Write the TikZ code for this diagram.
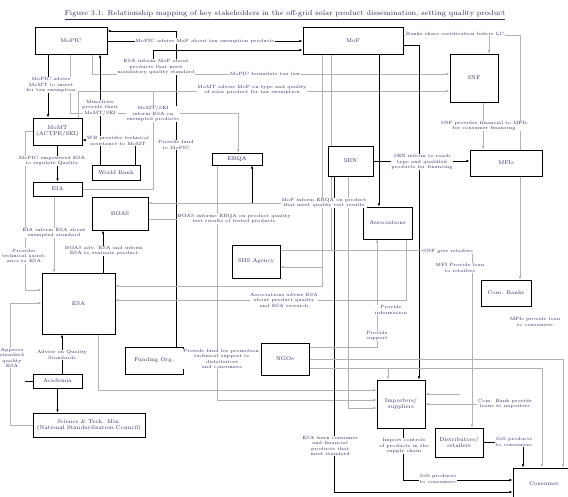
\documentclass[tikz,border=0pt]{standalone}
\usepackage{tikz}
\usetikzlibrary{positioning, arrows.meta, backgrounds}
\definecolor{labcol}{RGB}{45,45,95}
\tikzset{
        x=1pt, y=-1pt, % one unit per pixel, y grows downwards
        >={Latex[length=3.2pt,width=2.6pt]}, % small filled heads
        box/.style={draw, line width=0.9pt, fill=white, inner sep=1pt, align=center,
                text=labcol, font=\fontsize{5.5}{6.5}\selectfont}, % stakeholder boxes
        lbl/.style={fill=white, inner sep=0.6pt, align=center, text=labcol,
                font=\fontsize{4.6}{5.4}\selectfont}, % relation texts
        heavy/.style={line width=1pt, black},
        light/.style={line width=0.55pt, gray!60},
        }

\begin{document}
\begin{tikzpicture}
        \useasboundingbox (0,0) rectangle (568,496);
        \node[text=labcol, font=\fontsize{7.3}{8.5}\selectfont] (title) at (285,15)
                {\underline{Figure 3.1: Relationship mapping of key stakeholders in the off-grid solar product dissemination, setting quality product}};

        % stakeholders
        \node[box, minimum width=72, minimum height=27] (MoPIC) at (71,40.5) {MoPIC};
        \node[box, minimum width=100, minimum height=27] (MoF) at (353,40.5) {MoF};
        \node[box, minimum width=48, minimum height=48] (SNF) at (474,78) {SNF};
        \node[box, minimum width=72, minimum height=26] (MFIs) at (506,163) {MFIs};
        \node[box, minimum width=49, minimum height=27] (MoMT) at (57.5,131.5) {MoMT\\(ACTPE/SEI)};
        \node[box, minimum width=48, minimum height=15] (WB) at (116,172.5) {World Bank};
        \node[box, minimum width=49, minimum height=14] (EIA) at (57.5,189) {EIA};
        \node[box, minimum width=56, minimum height=33] (BOAS) at (120,213.5) {BOAS};
        \node[box, minimum width=50, minimum height=12] (ERQA) at (237,159) {ERQA};
        \node[box, minimum width=45, minimum height=30] (SEN) at (350.5,161) {SEN};
        \node[box, minimum width=49, minimum height=32] (Assoc) at (387.5,223) {Associations};
        \node[box, minimum width=48, minimum height=33] (SHS) at (256,261.5) {SHS Agency};
        \node[box, minimum width=73, minimum height=61] (ESA) at (78.5,303.5) {ESA};
        \node[box, minimum width=50, minimum height=26] (ComBanks) at (506,293) {Com. Banks};
        \node[box, minimum width=49, minimum height=14] (Academia) at (57.5,381) {Academia};
        \node[box, minimum width=112, minimum height=24] (SciTech) at (89,425) {Science \& Tech. Min.\\(National Standardisation Council)};
        \node[box, minimum width=58, minimum height=27] (FundOrg) at (154,360.5) {Funding Org.};
        \node[box, minimum width=48, minimum height=32] (NGOs) at (285,359) {NGOs};
        \node[box, minimum width=48, minimum height=48] (Importers) at (401,404) {Importers/\\suppliers};
        \node[box, minimum width=48, minimum height=29] (Distrib) at (459,442.5) {Distributors/\\retailers};
        \node[box, minimum width=62, minimum height=32] (Consumer) at (544,484) {Consumer};

        % relation texts
        \node[lbl] (lA) at (205,41) {MoPIC advise MoF about tax exemption products};
        \node[lbl] (lB) at (156,67) {ESA inform MoF about\\products that meet\\mandatory quality standard};
        \node[lbl] (lC) at (455,34) {Banks share certification before LC};
        \node[lbl] (lD) at (265,74) {MoPIC formulate tax law};
        \node[lbl] (lE) at (252,90) {MoMT advise MoF on type and quality\\of solar product for tax exemption};
        \node[lbl] (lF) at (51,85) {MoPIC advise\\MoMT to insert\\for tax exemption};
        \node[lbl] (lG) at (100,108) {Ministries\\provide their\\MoMT/SEI};
        \node[lbl] (lH) at (153,114) {MoMT/SEI\\inform ESA on\\exempted products};
        \node[lbl] (lI) at (118,141) {WB provides technical\\assistance to MoMT};
        \node[lbl] (lJ) at (176,145) {Provide fund\\to MoPIC};
        \node[lbl] (lK) at (52,161) {MoPIC empowered ESA\\to regulate Quality};
        \node[lbl] (lL) at (54,233) {EIA inform ESA about\\exempted standard};
        \node[lbl] (lM) at (24,256) {Provides\\technical assist-\\ance to ESA};
        \node[lbl] (lN) at (104,251) {BOAS adv. ESA and inform\\ESA to evaluate product};
        \node[lbl] (lO) at (234,219) {BOAS informs ERQA on product quality\\test results of tested products};
        \node[lbl] (lP) at (324,203) {MoF inform ERQA on product\\that meet quality test results};
        \node[lbl] (lQ) at (422,162) {SEN inform to reach\\type and qualified\\products for financing};
        \node[lbl] (lR) at (484,126) {SNF provides financial to MFIs\\for consumer financing};
        \node[lbl] (lS) at (448,251) {SNF give retailers};
        \node[lbl] (lT) at (460,268) {MFI Provide loan\\to retailers};
        \node[lbl] (lU) at (284,300) {Associations advise ESA\\about product quality\\and ESA research};
        \node[lbl] (lV) at (391,310) {Provide\\information};
        \node[lbl] (lW) at (377,336) {Provide\\support};
        \node[lbl] (lX) at (535,322) {MFIs provide loan\\to consumers};
        \node[lbl] (lY) at (62,355) {Advise on Quality\\Standards};
        \node[lbl] (lZ) at (12,358) {Approve\\standard\\quality\\ESA};
        \node[lbl] (lAA) at (222,359) {Provide fund for promotion,\\technical support to\\distributors\\and consumers};
        \node[lbl] (lAB) at (330,446) {ESA warn consumer\\and financial\\products that\\meet standard};
        \node[lbl] (lAC) at (404,446) {Import controls\\of products in the\\supply chain};
        \node[lbl] (lAD) at (438,479) {Sell products\\to consumers};
        \node[lbl] (lAE) at (514,442) {Sell products\\to consumers};
        \node[lbl] (lAF) at (505,404) {Com. Bank provide\\loans to importers};

        % junctions on the bus lines
        \coordinate (jBank) at (489,35);
        \coordinate (jEIA) at (153,91);
        \coordinate (jBOAS) at (322,203);
        \coordinate (jERQA) at (252,203);
        \coordinate (jSHS) at (322,267);
        \coordinate (jTest) at (217,219);
        \coordinate (jTax) at (331,250);
        \coordinate (jImp) at (388,368);
        \coordinate (jLoan) at (460,394);

        \begin{scope}[on background layer]
        \draw[heavy,->] (MoPIC.east |- 0,41) -- (MoF.west |- 0,41);
        \draw[heavy,->] (lB.north -| 153,0) |- (MoF.west |- 0,50);
        \draw[heavy,->] (FundOrg.north -| 176,0) |- (MoPIC.east |- 0,31);
        \draw[light,->] (MoF.east |- 0,35) -| (ComBanks.north -| 520,0);
        \draw[light,->] (jBank) -- (SNF.north -| 489,0);
        \draw[light,->] (MoPIC.south -| 92,0) |- (SNF.west |- 0,74);
        \draw[light,->] (MoMT.north -| 78,0) |- (SNF.west |- 0,91);
        \draw[light] (EIA.east) -| (jEIA);
        \draw[heavy,->] (MoPIC.south -| 48,0) -- (MoMT.north -| 48,0);
        \draw[light,->] (MoPIC.south -| 70,0) -- (70,113) -| (ERQA.north -| 238,0);
        \draw[heavy,<-] (MoPIC.south -| 100,0) -- (WB.north -| 100,0);
        \draw[heavy,->] (WB.north -| 135,0) |- (MoMT.east |- 0,140);
        \draw[heavy,->] (MoMT.south) -- (EIA.north);
        \draw[light,->] (EIA.south -| 54,0) -- (ESA.north -| 54,0);
        \draw[light,->] (MoMT.west) -- (25,131.5) |- (ESA.west |- 0,290);
        \draw[light,->] (SciTech.west) -| (10,303) -- (ESA.west |- 0,303);
        \draw[heavy,->] (Academia.north -| 62,0) -- (ESA.south -| 62,0);
        \draw[heavy,->] (Academia.south) -- (SciTech.north -| Academia.south);
        \draw[heavy] (Academia.west) -- ++(-8,0);
        \draw[heavy,->] (ESA.north -| 103,0) -- (BOAS.south -| 103,0);
        \draw[light,->] (Assoc.south -| 406,0) |- (ESA.east |- 0,300);
        \draw[light,->] (MoF.south -| 322,0) |- (ESA.east |- 0,286);
        \draw[light,->] (jBOAS) -- (BOAS.east |- 0,203);
        \draw[heavy,->] (jERQA) -- (ERQA.south -| 252,0);
        \draw[light,->] (jSHS) -- (SHS.east |- 0,267);
        \draw[light] (BOAS.east |- 0,219) -- (jTest);
        \draw[light,->] (ERQA.south -| 217,0) |- (Importers.west |- 0,400);
        \draw[light,->] (ESA.south -| 98,0) |- (Importers.west |- 0,390);
        \draw[light,->] (SEN.south -| 348,0) |- (Importers.west |- 0,408);
        \draw[heavy,->] (SEN.south -| 334,0) |- (Consumer.west |- 0,492);
        \draw[heavy,->] (MoF.south -| 379,0) -- (Assoc.north -| 379,0);
        \draw[heavy,->] (MoF.east |- 0,45) -| (Importers.north -| 419,0);
        \draw[heavy,->] (SEN.east) -- (MFIs.west |- SEN.east);
        \draw[light,->] (SNF.south -| 483,0) -- (MFIs.north -| 483,0);
        \draw[light,->] (SHS.east |- 0,250) -| (Distrib.north -| 472,0);
        \draw[light] (MoF.south -| 331,0) -- (jTax);
        \draw[light,->] (NGOs.east |- 0,347) -| (Assoc.south -| 377,0);
        \draw[light,->] (NGOs.east |- 0,359) -| (Consumer.north -| 563,0);
        \draw[light,->] (NGOs.east |- 0,368) -| (Consumer.north -| 542,0);
        \draw[light,->] (jImp) -- (Importers.north -| 388,0);
        \draw[light,->] (FundOrg.east) -- (NGOs.west |- FundOrg.east);
        \draw[heavy,->] (Importers.south -| 403,0) |- (Consumer.west |- 0,480);
        \draw[heavy,->] (Distrib.east) -| (Consumer.north -| 523,0);
        \draw[light,->] (lAF.west) -- (Importers.east |- lAF.west);
        \draw[light,->] (jLoan) -- (Importers.east |- 0,394);
        \end{scope}
\end{tikzpicture}
\end{document}
